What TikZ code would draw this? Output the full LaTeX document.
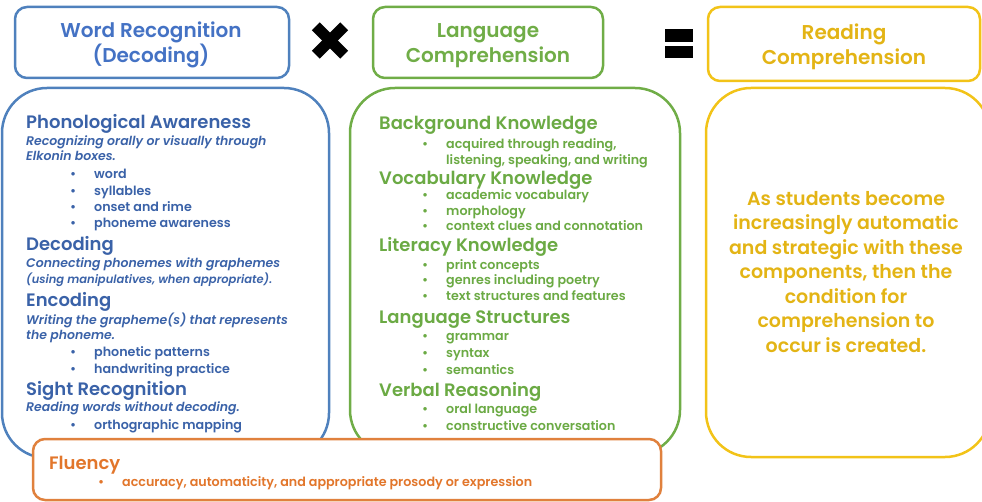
\documentclass[tikz,border=0pt]{standalone}
\usepackage{fontspec}
\setmainfont{Poppins}[BoldFont={Poppins SemiBold}, BoldItalicFont={Poppins SemiBold Italic}]
\definecolor{wrblue}{HTML}{4F81BD}
\definecolor{wrtitle}{HTML}{4472C4}
\definecolor{wrtext}{HTML}{3A62A8}
\definecolor{lcgreen}{HTML}{70AD47}
\definecolor{lctext}{HTML}{6BAA44}
\definecolor{rcyellow}{HTML}{F2C318}
\definecolor{rctext}{HTML}{E3B415}
\definecolor{florange}{HTML}{E0813D}
\definecolor{fltext}{HTML}{E2762B}
\newcommand\bul{\llap{\textbullet\hspace{18pt}}}
\begin{document}
\begin{tikzpicture}[x=1pt, y=-1pt,
  topbox/.style = {draw, line width=2.5pt, rounded corners=12pt},
  title/.style = {align=center, font=\fontsize{20}{24.5}\selectfont\bfseries},
  bigbox/.style = {draw, line width=2.5pt, rounded corners=45pt},
  head/.style = {anchor=base west, inner sep=0pt, font=\fontsize{18}{20}\selectfont\bfseries},
  desc/.style = {anchor=base west, inner sep=0pt, font=\fontsize{12.5}{15}\selectfont\bfseries\itshape},
  item/.style = {anchor=base west, inner sep=0pt, font=\fontsize{12.7}{15}\selectfont\bfseries}]
  \useasboundingbox (0,0) rectangle (982,502);

  \node[topbox, wrblue, minimum width=274pt, minimum height=71pt] (wr) at (152,42.5) {};
  \node[topbox, lcgreen, minimum width=230pt, minimum height=71pt] (lc) at (488,42.5) {};
  \node[topbox, rcyellow, minimum width=272pt, minimum height=74pt] (rc) at (844,44) {};
  \node[title, text=wrtitle] (wrt) at (151,45) {Word Recognition\\(Decoding)};
  \node[title, text=lcgreen] (lct) at (488,45.5) {Language\\Comprehension};
  \node[title, text=rctext] (rct) at (844,47) {Reading\\Comprehension};
  \node[fill, rotate=45, minimum width=40pt, minimum height=11pt, inner sep=0pt] (times1) at (330,40.5) {};
  \node[fill, rotate=-45, minimum width=40pt, minimum height=11pt, inner sep=0pt] (times2) at (330,40.5) {};
  \node[fill, minimum width=28pt, minimum height=13pt, inner sep=0pt] (eq1) at (679,36) {};
  \node[fill, minimum width=28pt, minimum height=12pt, inner sep=0pt] (eq2) at (679,52) {};

  \node[bigbox, wrblue, minimum width=327pt, minimum height=370pt] (wrbody) at (165.5,273) {};
  \node[bigbox, lcgreen, minimum width=330pt, minimum height=367pt] (lcbody) at (515,271.5) {};
  \node[bigbox, rcyellow, minimum width=284pt, minimum height=369pt] (rcbody) at (848,272.5) {};

  \node[head, text=wrtext] (pa) at (26,129) {Phonological Awareness};
  \node[desc, text=wrtext] (pad1) at (26,145.7) {Recognizing orally or visually through};
  \node[desc, text=wrtext] (pad2) at (26,161) {Elkonin boxes.};
  \node[item, text=wrtext] (pa1) at (94,179) {\bul word};
  \node[item, text=wrtext] (pa2) at (94,195.7) {\bul syllables};
  \node[item, text=wrtext] (pa3) at (94,212) {\bul onset and rime};
  \node[item, text=wrtext] (pa4) at (94,228) {\bul phoneme awareness};
  \node[head, text=wrtext] (dec) at (26,250.7) {Decoding};
  \node[desc, text=wrtext] (decd1) at (26,267.7) {Connecting phonemes with graphemes};
  \node[desc, text=wrtext, font=\fontsize{11.5}{14}\selectfont\bfseries\itshape] (decd2) at (26,284) {(using manipulatives, when appropriate).};
  \node[head, text=wrtext] (enc) at (26,306.7) {Encoding};
  \node[desc, text=wrtext] (encd1) at (26,324.3) {Writing the grapheme(s) that represents};
  \node[desc, text=wrtext] (encd2) at (26,340) {the phoneme.};
  \node[item, text=wrtext] (enc1) at (94,356.7) {\bul phonetic patterns};
  \node[item, text=wrtext] (enc2) at (94,373.3) {\bul handwriting practice};
  \node[head, text=wrtext] (sr) at (26,395) {Sight Recognition};
  \node[desc, text=wrtext] (srd1) at (26,411.7) {Reading words without decoding.};
  \node[item, text=wrtext] (sr1) at (94,429) {\bul orthographic mapping};

  \node[head, text=lctext] (bk) at (379,130) {Background Knowledge};
  \node[item, text=lctext] (bk1) at (446,148.3) {\bul acquired through reading,};
  \node[item, text=lctext] (bk1b) at (446,165) {listening, speaking, and writing};
  \node[head, text=lctext] (vk) at (379,185) {Vocabulary Knowledge};
  \node[item, text=lctext] (vk1) at (446,200) {\bul academic vocabulary};
  \node[item, text=lctext] (vk2) at (446,216) {\bul morphology};
  \node[item, text=lctext] (vk3) at (446,230.7) {\bul context clues and connotation};
  \node[head, text=lctext] (lk) at (379,251.7) {Literacy Knowledge};
  \node[item, text=lctext] (lk1) at (446,269.3) {\bul print concepts};
  \node[item, text=lctext] (lk2) at (446,285) {\bul genres including poetry};
  \node[item, text=lctext] (lk3) at (446,301) {\bul text structures and features};
  \node[head, text=lctext] (ls) at (379,323.3) {Language Structures};
  \node[item, text=lctext] (ls1) at (446,341) {\bul grammar};
  \node[item, text=lctext] (ls2) at (446,357.3) {\bul syntax};
  \node[item, text=lctext] (ls3) at (446,374.3) {\bul semantics};
  \node[head, text=lctext] (vr) at (379,396.7) {Verbal Reasoning};
  \node[item, text=lctext] (vr1) at (446,413.3) {\bul oral language};
  \node[item, text=lctext] (vr2) at (446,430) {\bul constructive conversation};

  \node[text=rctext, align=center, font=\fontsize{19}{24.5}\selectfont\bfseries] (rctxt) at (846,272) {As students become\\increasingly automatic\\and strategic with these\\components, then the\\condition for\\comprehension to\\occur is created.};

  \node[draw, florange, fill=white, line width=2.5pt, rounded corners=12pt, minimum width=628pt, minimum height=61pt] (flbox) at (347,469.5) {};
  \node[head, text=fltext] (fl) at (49,469) {Fluency};
  \node[item, text=fltext] (fl1) at (122,486) {\bul accuracy, automaticity, and appropriate prosody or expression};
\end{tikzpicture}
\end{document}
